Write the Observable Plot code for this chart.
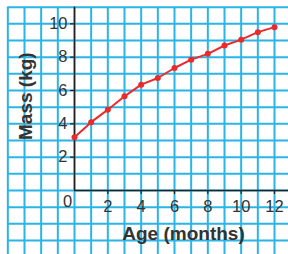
<!DOCTYPE html>
<html>
<head>
<meta charset="utf-8">
<script src="https://cdn.jsdelivr.net/npm/d3@7"></script>
<script src="https://cdn.jsdelivr.net/npm/@observablehq/plot@0.6"></script>
<style>
  html, body { margin: 0; padding: 0; background: #fff; }
  svg { display: block; }
</style>
</head>
<body>
<div id="chart"></div>
<script>
const ages = [0, 1, 2, 3, 4, 5, 6, 7, 8, 9, 10, 11, 12];
const masses = [3.2, 4.1, 4.85, 5.65, 6.35, 6.75, 7.35, 7.85, 8.2, 8.7, 9.05, 9.5, 9.8];
const xTickLabels = [2, 4, 6, 8, 10, 12];
const yTickLabels = [2, 4, 6, 8, 10];
const xGridLines = d3.range(-4, 14);
const yGridLines = d3.range(-4, 12);

const data = ages.map((a, i) => ({age: a, mass: masses[i]}));

const blue = "#2bb4e6";
const red = "#ec2a2c";
const textColor = "#333";
const font = "Liberation Sans, Arial, sans-serif";

const chart = Plot.plot({
  width: 288,
  height: 254,
  margin: 0,
  style: {fontFamily: font, background: "#fff", overflow: "visible"},
  x: {domain: [0, 12], range: [74, 274], axis: null},
  y: {domain: [0, 10], range: [190, 23.33], axis: null},
  marks: [
    Plot.ruleX(xGridLines, {x: d => d, y1: -4.5, y2: 11, stroke: blue, strokeWidth: 2}),
    Plot.ruleY(yGridLines, {y: d => d, x1: -4, x2: 13, stroke: blue, strokeWidth: 2}),
    // axes
    Plot.ruleX([0], {y1: 0, y2: 11, stroke: "#222", strokeWidth: 1.5}),
    Plot.ruleY([0], {x1: 0, x2: 13, stroke: "#222", strokeWidth: 1.5}),
    // ticks
    Plot.ruleY(yTickLabels, {y: d => d, x1: -0.24, x2: 0, stroke: "#222", strokeWidth: 1.2}),
    Plot.ruleX(xTickLabels, {x: d => d, y1: -0.24, y2: 0, stroke: "#222", strokeWidth: 1.2}),
    // tick labels
    Plot.text(yTickLabels, {x: 0, y: d => d, text: d => String(d), dx: -7, textAnchor: "end", fontSize: 16.5, fill: textColor}),
    Plot.text(xTickLabels, {x: d => d, y: 0, text: d => String(d), dy: 16, fontSize: 16.5, fill: textColor}),
    Plot.text([0], {x: 0, y: 0, text: d => String(d), dx: -7, dy: 11, fontSize: 16.5, fill: textColor}),
    // axis titles
    Plot.text(["Age (months)"], {x: 6, y: 0, text: d => d, dx: 9, dy: 43, fontSize: 19, fontWeight: "bold", fill: textColor}),
    Plot.text(["Mass (kg)"], {x: 0, y: 5, text: d => d, dx: -49, dy: -11, rotate: -90, fontSize: 19, fontWeight: "bold", fill: textColor}),
    // data
    Plot.line(data, {x: "age", y: "mass", stroke: red, strokeWidth: 2}),
    Plot.dot(data, {x: "age", y: "mass", r: 3, fill: red, stroke: "none"})
  ]
});
document.getElementById("chart").appendChild(chart);
</script>
</body>
</html>
